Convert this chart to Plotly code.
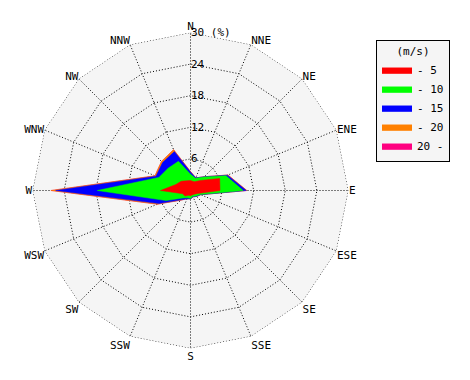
import numpy as np
import plotly.graph_objects as go

directions = ["N", "NNE", "NE", "ENE", "E", "ESE", "SE", "SSE",
              "S", "SSW", "SW", "WSW", "W", "WNW", "NW", "NNW"]

# frequency (%) per speed class (m/s), per direction
speed_0_5   = [1.9, 1.8, 2.7, 6.0, 5.6, 1.5, 1.0, 0.9, 1.0, 1.0, 1.5, 1.6, 5.7, 3.0, 2.5, 2.0]
speed_5_10  = [1.2, 0.7, 0.9, 1.3, 4.4, 0.5, 0.5, 0.3, 0.5, 0.5, 0.5, 3.4, 12.0, 3.5, 3.5, 4.0]
speed_10_15 = [0.4, 0.1, 0.1, 0.3, 0.6, 0.1, 0.1, 0.1, 0.1, 0.2, 0.5, 1.5, 7.9, 0.6, 1.5, 2.0]
speed_15_20 = [0.1, 0.0, 0.0, 0.1, 0.1, 0.0, 0.0, 0.0, 0.0, 0.0, 0.1, 0.3, 0.9, 0.2, 0.3, 0.4]
speed_20_up = [0.0] * 16

class_labels = ["- 5", "- 10", "- 15", "- 20", "20 -"]
class_colors = ["#ff0000", "#00ff00", "#0000ff", "#ff8000", "#ff0080"]
radial_ticks = [6, 12, 18, 24, 30]
radial_ticktext = ["6", "12", "18", "24", "30 (%)"]

classes = np.array([speed_0_5, speed_5_10, speed_10_15, speed_15_20, speed_20_up])
cumulative = np.cumsum(classes, axis=0)

FONT = "DejaVu Sans Mono"
DOT = "1px,2px"
fig = go.Figure()

# draw outermost first so inner classes sit on top
for i in range(len(class_labels) - 1, -1, -1):
    r = list(cumulative[i]) + [cumulative[i][0]]
    theta = directions + [directions[0]]
    fig.add_trace(go.Scatterpolar(
        r=r, theta=theta, mode="lines", fill="toself",
        fillcolor=class_colors[i], line=dict(color=class_colors[i], width=0.5),
        name=class_labels[i], legendrank=i + 1, hoverinfo="skip",
    ))

# dotted outer frame at the top radial tick
fig.add_trace(go.Scatterpolar(
    r=[radial_ticks[-1]] * (len(directions) + 1), theta=directions + [directions[0]],
    mode="lines", line=dict(color="black", width=1, dash=DOT),
    showlegend=False, hoverinfo="skip",
))

fig.update_layout(
    width=470, height=380,
    margin=dict(l=0, r=0, t=0, b=0),
    paper_bgcolor="white",
    font=dict(family=FONT, size=11, color="black"),
    showlegend=True,
    legend=dict(
        x=368 / 470, y=1 - 32 / 380, xanchor="left", yanchor="top",
        bgcolor="#f5f5f5", bordercolor="black", borderwidth=1,
        title=dict(text="(m/s)", side="top center", font=dict(family=FONT, size=11)),
        font=dict(family=FONT, size=11), traceorder="normal",
    ),
    polar=dict(
        domain=dict(x=[24.5 / 470, 340.5 / 470], y=[39.5 / 380, 355.5 / 380]),
        bgcolor="#f5f5f5",
        gridshape="linear",
        radialaxis=dict(
            range=[0, 30], tickvals=radial_ticks, ticktext=radial_ticktext,
            angle=90, tickangle=90, side="clockwise", showline=False, ticks="",
            gridcolor="black", griddash=DOT, gridwidth=1,
            tickfont=dict(family=FONT, size=11), layer="above traces",
        ),
        angularaxis=dict(
            type="category", categoryarray=directions,
            direction="clockwise", rotation=90,
            gridcolor="black", griddash=DOT, gridwidth=1,
            showline=False, ticks="", layer="above traces",
            tickfont=dict(family=FONT, size=11),
        ),
    ),
)

fig.write_html("out.html")
